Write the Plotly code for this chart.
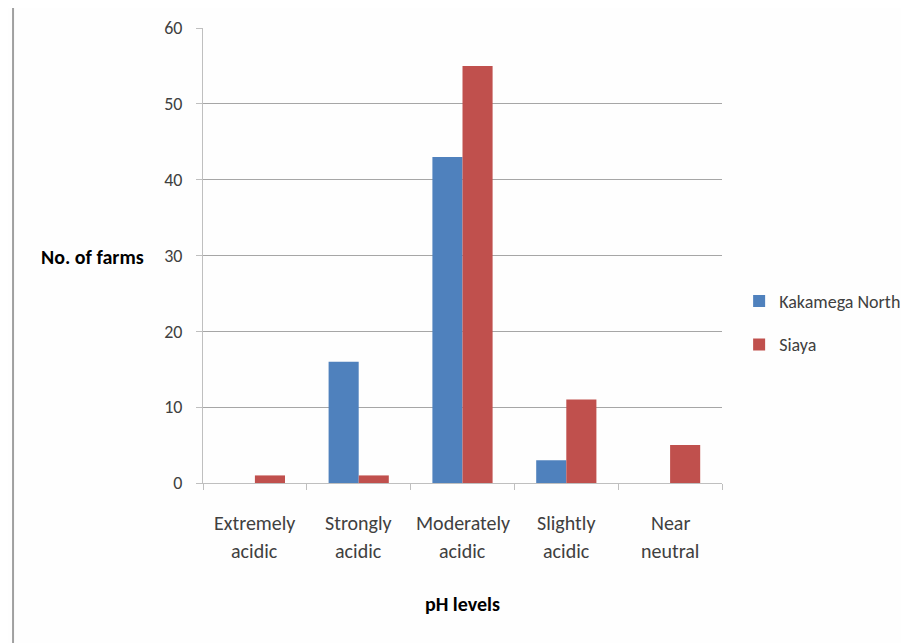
import plotly.graph_objects as go

categories = ["Extremely acidic", "Strongly acidic", "Moderately acidic", "Slightly acidic", "Near neutral"]
kakamega_north = [0, 16, 43, 3, 0]
siaya = [1, 1, 55, 11, 5]
y_ticks = [0, 10, 20, 30, 40, 50, 60]

FONT = "Carlito, Lato, sans-serif"
FS = 20

fig = go.Figure()
fig.add_trace(go.Bar(name="Kakamega North", x=categories, y=kakamega_north,
                     marker=dict(color="#4F81BD", line=dict(width=0)), legendgroup="a"))
fig.add_trace(go.Bar(name="Siaya", x=categories, y=siaya,
                     marker=dict(color="#C0504D", line=dict(width=0)), legendgroup="b"))

annotations = [
    dict(text="<b>No. of farms</b>", xref="paper", yref="paper", x=-0.110, y=0.497,
         xanchor="right", yanchor="middle", showarrow=False,
         font=dict(family=FONT, size=FS, color="#000000")),
    dict(text="<b>pH levels</b>", xref="paper", yref="paper", x=0.5, y=-0.266,
         xanchor="center", yanchor="middle", showarrow=False,
         font=dict(family=FONT, size=FS, color="#000000")),
]
for c in categories:
    first, second = c.split(" ", 1)
    for txt, yy in ((first, -0.088), (second, -0.149)):
        annotations.append(dict(text=txt, xref="x", yref="paper", x=c, y=yy,
                                xanchor="center", yanchor="middle", showarrow=False,
                                font=dict(family=FONT, size=FS, color="#404040")))

fig.update_layout(
    width=901, height=635,
    margin=dict(l=195, r=187, t=20, b=160, autoexpand=False),
    paper_bgcolor="#FEFEFE", plot_bgcolor="#FEFEFE",
    font=dict(family=FONT, size=FS, color="#404040"),
    barmode="group", bargap=0.42, bargroupgap=0,
    showlegend=True,
    legend=dict(x=1.033, y=0.352, xanchor="left", yanchor="middle",
                font=dict(family=FONT, size=18, color="#404040"),
                tracegroupgap=17, itemwidth=30, bgcolor="rgba(0,0,0,0)"),
    xaxis=dict(showline=True, linecolor="#BFBFBF", linewidth=1,
               ticks="outside", tickson="boundaries", ticklen=6, tickcolor="#BFBFBF",
               showticklabels=False, showgrid=False),
    yaxis=dict(range=[0, 60], tickvals=y_ticks, showline=True, linecolor="#BFBFBF",
               linewidth=1, ticks="outside", ticklen=6, tickcolor="#BFBFBF",
               showgrid=True, gridcolor="#A6A6A6", gridwidth=1, zeroline=False,
               tickfont=dict(family=FONT, size=18, color="#404040"), ticklabelstandoff=10),
    annotations=annotations,
    shapes=[dict(type="line", xref="paper", yref="paper", x0=-0.366, x1=-0.366,
                 y0=-0.4, y1=1.046, line=dict(color="#A0A0A0", width=2))],
)

fig.write_html("out.html")
